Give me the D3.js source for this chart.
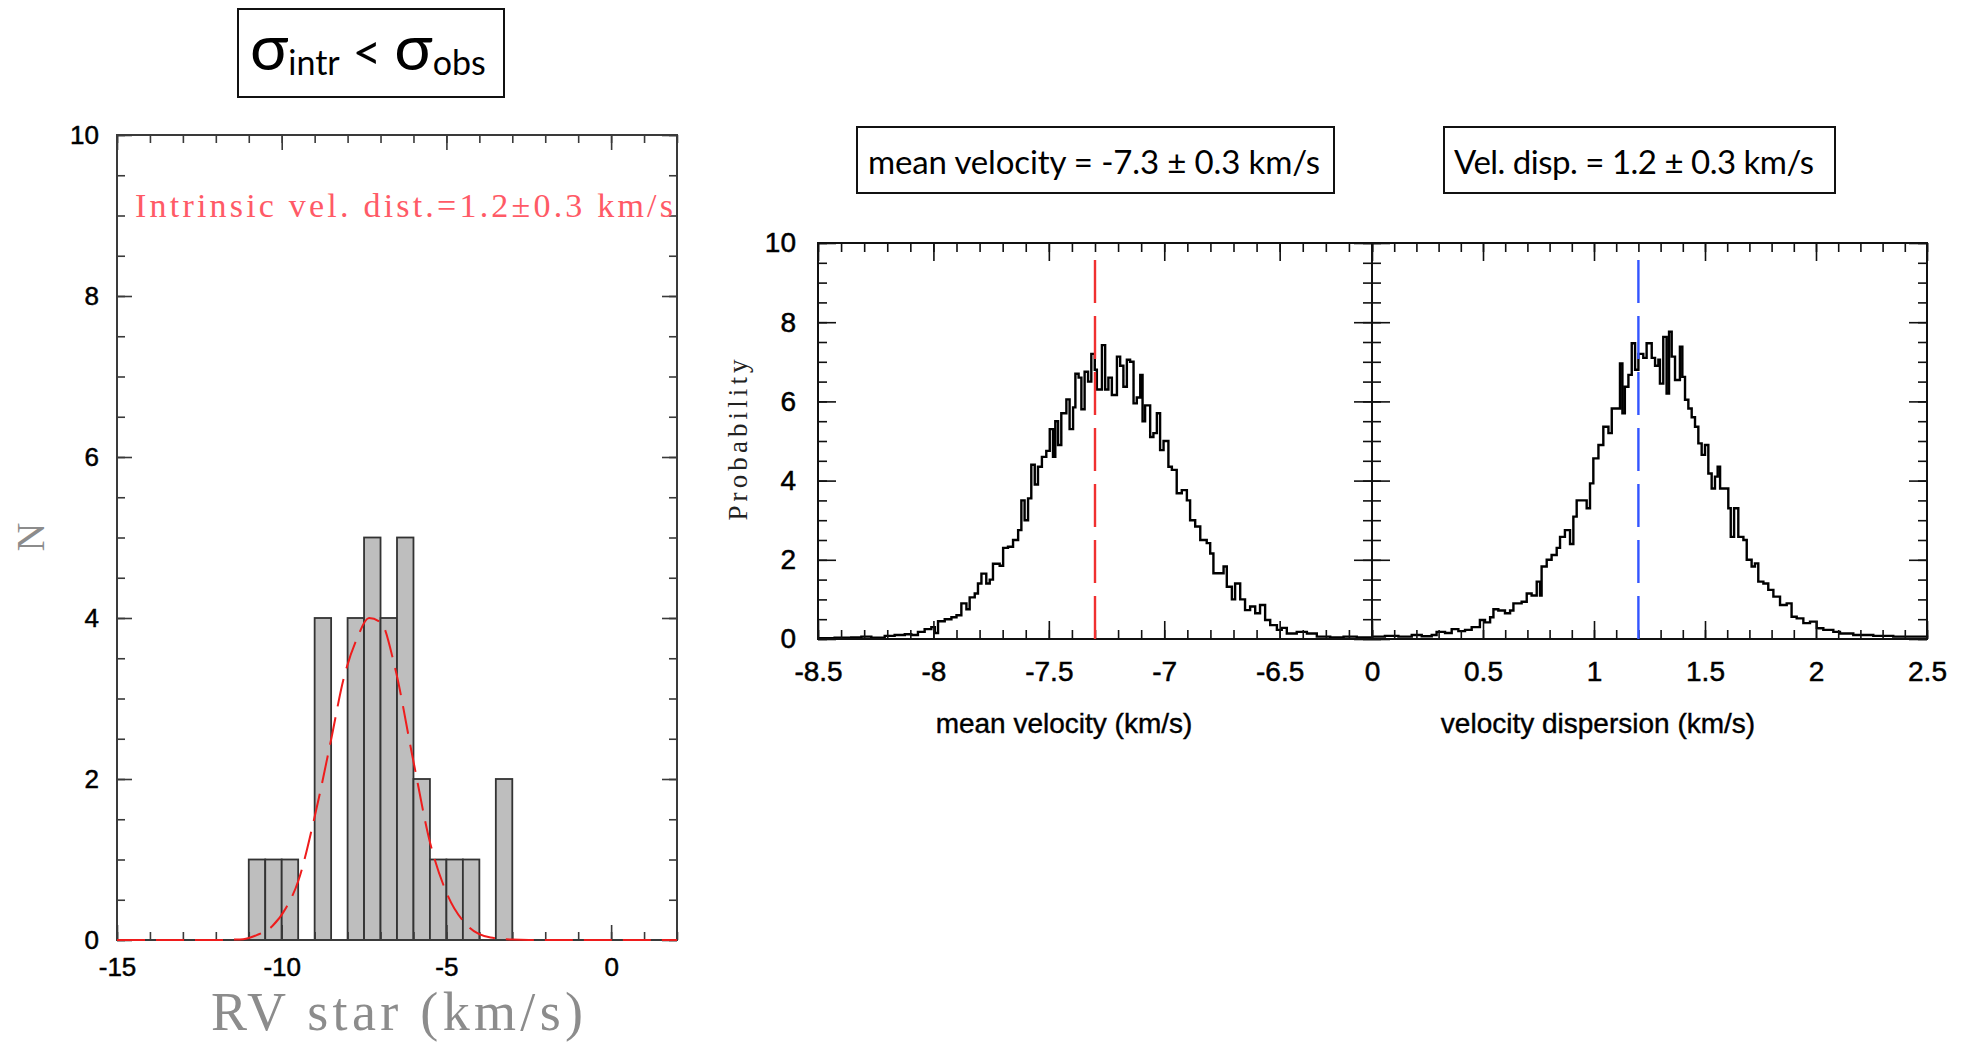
<!DOCTYPE html>
<html>
<head>
<meta charset="utf-8">
<script src="https://cdn.jsdelivr.net/npm/d3@7/dist/d3.min.js"></script>
<style>
  body { margin: 0; background: #fff; }
  svg { display: block; }
</style>
</head>
<body>
<svg id="chart" width="1967" height="1043"></svg>
<script>
// ---- data ----
// left panel: histogram of star RVs, 0.5 km/s bins
let rvBinStart = [-11, -10.5, -10, -9.5, -9, -8.5, -8, -7.5, -7, -6.5, -6, -5.5, -5, -4.5, -4, -3.5];
let rvCounts   = [  1,     1,   1,    0,  4,    0,  4,    5,  4,    5,  2,    1,  1,    1,  0,    2];
let rvBinWidth = 0.5;

// red dashed fitted curve
let fitX = [-15, -12, -11.5, -11.17, -10.76, -10.29, -9.88, -9.5, -9.0, -8.5, -8.13, -7.72, -7.35, -6.98, -6.57, -6.03, -5.49, -5.01, -4.34, -3.66, -3.0, -2.5, 2];
let fitN = [0, 0, 0.005, 0.01, 0.06, 0.17, 0.39, 0.73, 1.53, 2.49, 3.23, 3.74, 4.0, 3.94, 3.40, 2.28, 1.20, 0.60, 0.17, 0.03, 0.005, 0, 0];

// middle panel: posterior of mean velocity (step histogram)
let mvX = [-8.5, -8.428, -8.356, -8.312, -8.269, -8.211, -8.168, -8.124, -8.096, -8.067, -8.038, -8.009, -7.994, -7.98, -7.951,
  -7.922, -7.9, -7.879, -7.857, -7.843, -7.821, -7.807, -7.792, -7.771, -7.756, -7.742, -7.713, -7.698, -7.677, -7.655,
  -7.633, -7.619, -7.605, -7.59, -7.576, -7.561, -7.547, -7.53, -7.511, -7.496, -7.482, -7.472, -7.46, -7.446, -7.424,
  -7.41, -7.395, -7.385, -7.371, -7.359, -7.345, -7.33, -7.316, -7.301, -7.292, -7.27, -7.256, -7.242, -7.227, -7.205,
  -7.191, -7.177, -7.162, -7.148, -7.133, -7.119, -7.104, -7.094, -7.083, -7.061, -7.047, -7.032, -7.018, -7.003, -6.982,
  -6.967, -6.946, -6.924, -6.902, -6.888, -6.866, -6.844, -6.816, -6.801, -6.787, -6.765, -6.743, -6.729, -6.707, -6.693,
  -6.671, -6.65, -6.628, -6.606, -6.585, -6.563, -6.541, -6.512, -6.491, -6.469, -6.426, -6.382, -6.339, -6.281, -6.223,
  -6.166, -6.1];
let mvP = [0.02, 0.03, 0.04, 0.06, 0.03, 0.08, 0.1, 0.12, 0.1, 0.18, 0.25, 0.3, 0.15, 0.45, 0.5,
  0.55, 0.6, 0.9, 0.75, 1.05, 1.15, 1.4, 1.65, 1.4, 1.5, 1.9, 1.85, 2.3, 2.33, 2.5,
  2.75, 3.5, 3.0, 3.55, 4.4, 3.9, 4.35, 4.6, 4.75, 5.3, 4.6, 5.5, 4.9, 5.7, 6.05,
  5.3, 5.85, 6.7, 6.6, 5.8, 6.75, 6.5, 7.2, 6.8, 6.3, 7.42, 6.3, 6.6, 6.16, 7.13,
  6.9, 6.37, 7.05, 7.0, 5.95, 6.1, 6.67, 5.5, 5.9, 5.1, 5.2, 5.7, 4.77, 5.0, 4.35,
  4.27, 3.68, 3.76, 3.5, 3.0, 2.84, 2.5, 2.42, 2.16, 1.66, 1.66, 1.83, 1.32, 1.0, 1.4,
  1.0, 0.73, 0.82, 0.65, 0.86, 0.48, 0.35, 0.23, 0.28, 0.14, 0.18, 0.14, 0.06, 0.04, 0.06,
  0.04, 0.04];

// right panel: posterior of velocity dispersion (step histogram)
let vdX = [0, 0.058, 0.119, 0.179, 0.224, 0.269, 0.291, 0.329, 0.359, 0.389, 0.419, 0.449, 0.486, 0.509, 0.532,
  0.547, 0.569, 0.599, 0.622, 0.637, 0.674, 0.697, 0.719, 0.742, 0.757, 0.764, 0.787, 0.809, 0.832, 0.847,
  0.869, 0.892, 0.907, 0.922, 0.952, 0.967, 0.982, 0.997, 1.02, 1.042, 1.065, 1.08, 1.102, 1.117, 1.128,
  1.139, 1.155, 1.17, 1.185, 1.2, 1.222, 1.237, 1.26, 1.275, 1.29, 1.297, 1.312, 1.327, 1.338, 1.35,
  1.365, 1.387, 1.398, 1.41, 1.425, 1.44, 1.455, 1.47, 1.485, 1.5, 1.515, 1.53, 1.545, 1.557, 1.568,
  1.605, 1.616, 1.631, 1.65, 1.673, 1.688, 1.71, 1.725, 1.74, 1.763, 1.785, 1.808, 1.838, 1.868, 1.89,
  1.913, 1.943, 1.973, 2.003, 2.033, 2.078, 2.108, 2.168, 2.258, 2.348, 2.438, 2.5];
let vdP = [0.06, 0.08, 0.06, 0.1, 0.07, 0.1, 0.18, 0.15, 0.25, 0.2, 0.23, 0.3, 0.48, 0.42, 0.55,
  0.75, 0.72, 0.65, 0.72, 0.9, 0.94, 1.15, 1.1, 1.45, 1.1, 1.83, 2.0, 2.12, 2.3, 2.58,
  2.75, 2.4, 3.09, 3.5, 3.5, 3.3, 3.93, 4.56, 4.9, 5.36, 5.2, 5.82, 5.82, 6.96, 5.7,
  6.37, 6.67, 7.47, 6.8, 7.2, 7.1, 7.47, 7.1, 6.9, 7.05, 6.45, 7.63, 6.2, 7.76, 7.13,
  6.54, 7.38, 6.62, 6.04, 5.82, 5.6, 5.36, 4.94, 4.65, 4.9, 4.18, 3.8, 4.1, 4.35, 3.8,
  3.3, 2.58, 3.3, 2.58, 2.5, 2.0, 1.83, 1.91, 1.45, 1.4, 1.24, 1.07, 0.86, 0.9, 0.56,
  0.52, 0.4, 0.44, 0.27, 0.23, 0.18, 0.14, 0.1, 0.08, 0.06, 0.06, 0.04];

let meanVel = -7.3;
let velDisp = 1.2;

let leftXTicks = [-15, -10, -5, 0];
let yTicks = [0, 2, 4, 6, 8, 10];
let midXTicks = [-8.5, -8, -7.5, -7, -6.5];
let rightXTicks = [0, 0.5, 1, 1.5, 2, 2.5];

// ---- layout ----
let svg = d3.select("svg#chart");
let tickFont = "'Liberation Sans', Arial, Helvetica, sans-serif";
let serifFont = "'Liberation Serif', 'DejaVu Serif', serif";
let boxFont = "Lato, 'Noto Sans', 'DejaVu Sans', sans-serif";

let left = { x0: 117, x1: 677, y0: 135, y1: 940 };
let mid = { x0: 818, x1: 1372, y0: 243, y1: 639 };
let right = { x0: 1372, x1: 1927, y0: 243, y1: 639 };

const xLeft = d3.scaleLinear().domain([-15, 2]).range([left.x0, left.x1]);
const yLeft = d3.scaleLinear().domain([0, 10]).range([left.y1, left.y0]);
const xMid = d3.scaleLinear().domain([-8.5, -6.1]).range([mid.x0, mid.x1]);
const xRight = d3.scaleLinear().domain([0, 2.5]).range([right.x0, right.x1]);
const yProb = d3.scaleLinear().domain([0, 10]).range([mid.y1, mid.y0]);

// plain hyphen minus, as in the original
let plainFmt = d => String(d);

// frames with inward ticks on all four sides
function drawFrame(p, xs, ys, o) {
  let g = svg.append("g");
  let minorX = d3.range(o.xMinor[0], o.xMinor[1] + 1e-9, o.xMinor[2]);
  let minorY = d3.range(0, 10.0001, 0.5);

  let sides = [
    { ax: d3.axisBottom(xs), t: "translate(0," + p.y1 + ")", major: o.xMajor, minor: minorX, labels: o.bottomLabels },
    { ax: d3.axisTop(xs), t: "translate(0," + p.y0 + ")", major: o.xMajor, minor: minorX, labels: false },
    { ax: d3.axisLeft(ys), t: "translate(" + p.x0 + ",0)", major: yTicks, minor: minorY, labels: o.leftLabels },
    { ax: d3.axisRight(ys), t: "translate(" + p.x1 + ",0)", major: yTicks, minor: minorY, labels: false }
  ];
  sides.forEach(s => {
    g.append("g")
      .attr("transform", s.t)
      .call(s.ax.tickValues(s.minor).tickSizeInner(-o.minorLen).tickSizeOuter(0).tickFormat(""))
      .call(a => a.select(".domain").remove())
      .selectAll("line").attr("stroke", o.color).attr("stroke-width", 1.6);
  });
  sides.forEach(s => {
    let a = g.append("g")
      .attr("transform", s.t)
      .call(s.ax.tickValues(s.major).tickSizeInner(-o.majorLen).tickSizeOuter(0)
        .tickPadding(o.pad).tickFormat(s.labels ? plainFmt : ""))
      .call(a => a.select(".domain").remove());
    a.selectAll("line").attr("stroke", o.color).attr("stroke-width", 1.6);
    a.selectAll("text")
      .attr("font-family", tickFont)
      .attr("font-size", o.fontSize)
      .attr("fill", "#000")
      .attr("stroke", "#000")
      .attr("stroke-width", 0.5);
  });
  g.append("rect")
    .attr("x", p.x0).attr("y", p.y0)
    .attr("width", p.x1 - p.x0).attr("height", p.y1 - p.y0)
    .attr("fill", "none").attr("stroke", o.color).attr("stroke-width", 2);
  return g;
}

// ---- left panel ----
svg.append("g").selectAll("rect")
  .data(rvBinStart)
  .join("rect")
  .attr("x", d => xLeft(d))
  .attr("y", (d, i) => yLeft(rvCounts[i]))
  .attr("width", d => xLeft(d + rvBinWidth) - xLeft(d))
  .attr("height", (d, i) => yLeft(0) - yLeft(rvCounts[i]))
  .attr("fill", "#bebebe")
  .attr("stroke", "#333")
  .attr("stroke-width", 1.8)
  .attr("display", (d, i) => rvCounts[i] > 0 ? null : "none");

drawFrame(left, xLeft, yLeft, {
  xMajor: leftXTicks, xMinor: [-15, 2, 1], majorLen: 15, minorLen: 8,
  pad: 18, fontSize: 26, color: "#3a3a3a", bottomLabels: true, leftLabels: true
});

svg.append("path")
  .datum(fitX.map((x, i) => [x, fitN[i]]))
  .attr("d", d3.line().x(d => xLeft(d[0])).y(d => yLeft(d[1])).curve(d3.curveMonotoneX))
  .attr("fill", "none")
  .attr("stroke", "#ee1c1c")
  .attr("stroke-width", 2)
  .attr("stroke-dasharray", "28,11");

svg.append("text")
  .attr("x", 135).attr("y", 217)
  .attr("font-family", serifFont)
  .attr("font-size", 34)
  .attr("fill", "#ff5a66")
  .attr("textLength", 538)
  .text("Intrinsic vel. dist.=1.2\u00b10.3 km/s");

svg.append("text")
  .attr("transform", "translate(44,537) rotate(-90)")
  .attr("text-anchor", "middle")
  .attr("font-family", serifFont)
  .attr("font-size", 40)
  .attr("fill", "#8c8c8c")
  .text("N");

svg.append("text")
  .attr("x", 211).attr("y", 1030)
  .attr("font-family", serifFont)
  .attr("font-size", 54)
  .attr("fill", "#8c8c8c")
  .attr("textLength", 372)
  .text("RV star (km/s)");

// ---- middle and right panels ----
let stepLine = xs => d3.line().x(d => xs(d[0])).y(d => yProb(d[1])).curve(d3.curveStepAfter);

svg.append("path")
  .datum(mvX.map((x, i) => [x, mvP[i]]))
  .attr("d", stepLine(xMid))
  .attr("fill", "none").attr("stroke", "#000").attr("stroke-width", 2.4);

svg.append("path")
  .datum(vdX.map((x, i) => [x, vdP[i]]))
  .attr("d", stepLine(xRight))
  .attr("fill", "none").attr("stroke", "#000").attr("stroke-width", 2.4);

drawFrame(mid, xMid, yProb, {
  xMajor: midXTicks, xMinor: [-8.5, -6.1, 0.1], majorLen: 18, minorLen: 9,
  pad: 22, fontSize: 28, color: "#111", bottomLabels: true, leftLabels: true
});
drawFrame(right, xRight, yProb, {
  xMajor: rightXTicks, xMinor: [0, 2.5, 0.1], majorLen: 18, minorLen: 9,
  pad: 22, fontSize: 28, color: "#111", bottomLabels: true, leftLabels: false
});

// dashed markers (drawn from the bottom up)
svg.append("line")
  .attr("x1", xMid(meanVel)).attr("x2", xMid(meanVel))
  .attr("y1", yProb(0)).attr("y2", yProb(9.7))
  .attr("stroke", "#f03030").attr("stroke-width", 2.4)
  .attr("stroke-dasharray", "43,13");

svg.append("line")
  .attr("x1", xRight(velDisp)).attr("x2", xRight(velDisp))
  .attr("y1", yProb(0)).attr("y2", yProb(9.7))
  .attr("stroke", "#3355ff").attr("stroke-width", 2.4)
  .attr("stroke-dasharray", "43,13");

svg.append("text")
  .attr("transform", "translate(747,440) rotate(-90)")
  .attr("text-anchor", "middle")
  .attr("font-family", serifFont)
  .attr("font-size", 27)
  .attr("fill", "#222")
  .attr("textLength", 161)
  .text("Probability");

svg.append("text")
  .attr("x", 1064).attr("y", 733)
  .attr("text-anchor", "middle")
  .attr("font-family", tickFont)
  .attr("font-size", 28)
  .attr("stroke", "#000").attr("stroke-width", 0.4)
  .text("mean velocity (km/s)");

svg.append("text")
  .attr("x", 1598).attr("y", 733)
  .attr("text-anchor", "middle")
  .attr("font-family", tickFont)
  .attr("font-size", 28)
  .attr("stroke", "#000").attr("stroke-width", 0.4)
  .text("velocity dispersion (km/s)");

// ---- boxed annotations ----
function box(x, y, w, h) {
  svg.append("rect")
    .attr("x", x).attr("y", y).attr("width", w).attr("height", h)
    .attr("fill", "#fff").attr("stroke", "#111").attr("stroke-width", 2);
}

box(238, 9, 266, 88);
let t1 = svg.append("text")
  .attr("x", 250).attr("y", 70)
  .attr("font-family", boxFont)
  .attr("fill", "#000");
t1.append("tspan").attr("font-size", 64).text("\u03c3");
t1.append("tspan").attr("font-size", 34).attr("dy", 5).text("intr");
t1.append("tspan").attr("font-size", 50).attr("dy", -5).text(" < ");
t1.append("tspan").attr("font-size", 64).text("\u03c3");
t1.append("tspan").attr("font-size", 34).attr("dy", 5).text("obs");

box(857, 127, 477, 66);
svg.append("text")
  .attr("x", 868).attr("y", 174)
  .attr("font-family", boxFont)
  .attr("font-size", 33)
  .attr("textLength", 452)
  .text("mean velocity = -7.3 \u00b1 0.3 km/s");

box(1444, 127, 391, 66);
svg.append("text")
  .attr("x", 1454).attr("y", 174)
  .attr("font-family", boxFont)
  .attr("font-size", 33)
  .attr("textLength", 360)
  .text("Vel. disp. = 1.2 \u00b1 0.3 km/s");
</script>
</body>
</html>
